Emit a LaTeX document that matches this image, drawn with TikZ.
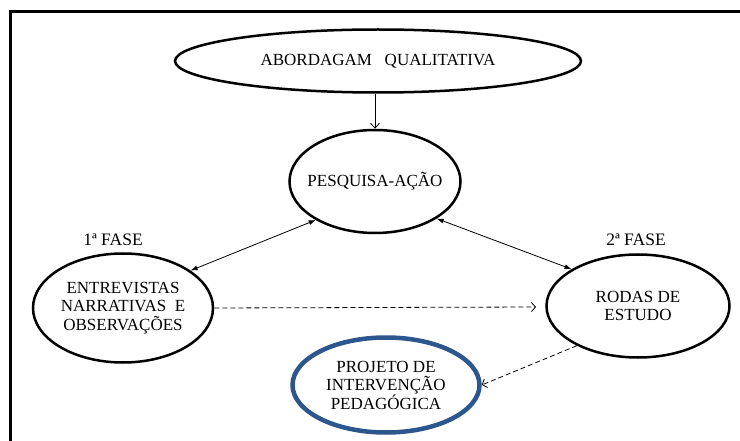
\documentclass[tikz,border=0pt]{standalone}
\usepackage{fontspec}
\setmainfont{Liberation Serif}
\usetikzlibrary{shapes.geometric,arrows.meta}
\definecolor{projblue}{RGB}{44,86,142}

\begin{document}
\begin{tikzpicture}[x=1pt,y=-1pt,
                elipse/.style={ellipse,draw,line width=2.5pt,inner sep=0pt},
                texto/.style={align=center,inner sep=0pt,font=\fontsize{17}{18.5}\selectfont},
                duplaseta/.style={{Latex[length=7pt,width=5pt]}-{Latex[length=7pt,width=5pt]},line width=.8pt},
                tracejada/.style={-{Straight Barb[length=4pt,width=9pt]},line width=.8pt,dash pattern=on 5pt off 3pt},
                fase/.style={font=\fontsize{17.5}{20}\selectfont}]
                \useasboundingbox (0,0) rectangle (740,441);
                \draw[line width=3.5pt] (10.5,441) -- (10.5,11.5) -- (740,11.5);
                \node[elipse,minimum width=406pt,minimum height=63pt,label={[texto]center:ABORDAGAM\ \ \ QUALITATIVA}] (abo) at (378,61) {};
                \node[elipse,minimum width=171pt,minimum height=103pt,label={[texto]center:PESQUISA-AÇÃO}] (pes) at (375,181.5) {};
                \node[elipse,minimum width=180pt,minimum height=109pt,label={[texto]center:ENTREVISTAS\\NARRATIVAS\ \ E\\OBSERVAÇÕES}] (ent) at (123,308) {};
                \node[elipse,minimum width=183pt,minimum height=103pt,label={[texto]center:RODAS DE\\ESTUDO}] (rod) at (638,306) {};
                \node[elipse,draw=projblue,line width=4.5pt,minimum width=187pt,minimum height=95pt,label={[texto]center:PROJETO DE\\INTERVENÇÃO\\PEDAGÓGICA}] (pro) at (386,385) {};
                \node[fase] (fase1) at (113,240) {1ª FASE};
                \node[fase] (fase2) at (636,240) {2ª FASE};
                \coordinate (fim) at (536,307);
                \draw[-{Straight Barb[length=5pt,width=9pt]},line width=.8pt] (pes.north |- abo.south) -- (pes.north);
                \draw[duplaseta] (ent.29) -- (pes.213);
                \draw[duplaseta] (pes.-31) -- (rod.151);
                \draw[tracejada] (ent.east) -- (fim);
                \draw[tracejada] (rod.213) -- (pro.east);
            \end{tikzpicture}
\end{document}
